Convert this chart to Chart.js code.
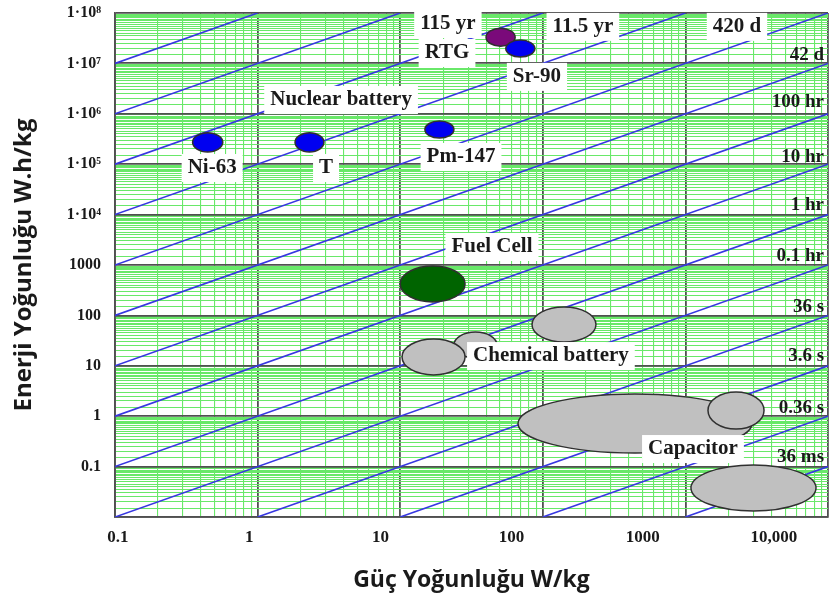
<!DOCTYPE html>
<html>
<head>
<meta charset="utf-8">
<script src="https://cdn.jsdelivr.net/npm/chart.js@4.4.1/dist/chart.umd.min.js"></script>
<style>
  html, body { margin: 0; padding: 0; background: #fff; }
</style>
</head>
<body>
<canvas id="ragone" width="830" height="597"></canvas>
<script>
// Tick labels of the two axes
const xTickValues = [0.1, 1, 10, 100, 1000, 10000];
const xTickLabels = ['0.1', '1', '10', '100', '1000', '10,000'];
const yTickValues = [1e8, 1e7, 1e6, 1e5, 1e4, 1000, 100, 10, 1, 0.1];
const yTickLabels = ['1·10⁸', '1·10⁷', '1·10⁶', '1·10⁵', '1·10⁴', '1000', '100', '10', '1', '0.1'];

// Constant discharge time lines (W/kg, Wh/kg), start and end point
const lineStart = [[1000, 0.01], [100, 0.01], [10, 0.01], [1, 0.01], [0.1, 0.01], [0.1, 0.1], [0.1, 1],
  [0.1, 10], [0.1, 100], [0.1, 1000], [0.1, 1e4], [0.1, 1e5], [0.1, 1e6], [0.1, 1e7]];
const lineEnd = [[1e4, 0.1], [1e4, 1], [1e4, 10], [1e4, 100], [1e4, 1000], [1e4, 1e4], [1e4, 1e5],
  [1e4, 1e6], [1e4, 1e7], [1e4, 1e8], [1000, 1e8], [100, 1e8], [10, 1e8], [1, 1e8]];

// Technology regions: power range (W/kg) and energy range (Wh/kg)
const regionNames = ['Ni-63', 'T', 'Pm-147', 'RTG', 'Sr-90', 'Fuel Cell',
  'Chemical battery a', 'Chemical battery b', 'Chemical battery c',
  'Capacitor a', 'Capacitor b', 'Capacitor c'];
const powerMin = [0.35, 1.83, 14.9, 40, 55, 10, 23.8, 10.3, 84, 67, 1440, 1094];
const powerMax = [0.57, 2.92, 23.8, 64, 88, 28.5, 47.7, 28.5, 236, 2930, 3560, 8240];
const energyMin = [1.75e5, 1.75e5, 3.3e5, 2.2e7, 1.34e7, 185, 14.3, 6.6, 29.7, 0.186, 0.557, 0.0132];
const energyMax = [4.2e5, 4.2e5, 7.2e5, 5.0e7, 2.9e7, 955, 46.9, 34, 147, 2.76, 3.02, 0.108];
const regionColors = ['#0000f0', '#0000f0', '#0000f0', '#7a0a7a', '#0000f0', '#006400',
  '#c0c0c0', '#c0c0c0', '#c0c0c0', '#c0c0c0', '#c0c0c0', '#c0c0c0'];

// Text notes on the plot, anchored in data units
const noteTexts = ['Nuclear battery', 'Ni-63', 'T', 'Pm-147', 'RTG', '115 yr', 'Sr-90', '11.5 yr', '420 d',
  'Fuel Cell', 'Chemical battery', 'Capacitor'];
const noteX = [3.85, 0.48, 3.02, 26.7, 21.3, 21.6, 91, 191, 2300, 44, 114, 1130];
const noteY = [1.88e6, 8.4e4, 8.4e4, 1.39e5, 1.61e7, 6.05e7, 5.4e6, 5.3e7, 5.3e7, 2275, 15.6, 0.223];

const timeTexts = ['42 d', '100 hr', '10 hr', '1 hr', '0.1 hr', '36 s', '3.6 s', '0.36 s', '36 ms'];
const timeY = [1.47e7, 1.71e6, 1.39e5, 1.55e4, 1510, 147, 15.6, 1.45, 0.155];
const timeX = 9380;

const isDecade = v => Math.abs(Math.log10(v) - Math.round(Math.log10(v))) < 1e-6;
const labelFor = (values, labels) => v => {
  const i = values.findIndex(t => Math.abs(Math.log10(t) - Math.log10(v)) < 1e-6);
  return i < 0 ? '' : labels[i];
};

const green = 'rgb(105,232,105)';
const dark = '#505050';

const notesPlugin = {
  id: 'notes',
  afterDatasetsDraw(chart) {
    const {ctx, scales: {x, y}} = chart;
    ctx.save();
    regionNames.forEach((n, i) => {
      const x1 = x.getPixelForValue(powerMin[i]), x2 = x.getPixelForValue(powerMax[i]);
      const y1 = y.getPixelForValue(energyMax[i]), y2 = y.getPixelForValue(energyMin[i]);
      ctx.beginPath();
      ctx.ellipse((x1 + x2) / 2, (y1 + y2) / 2, (x2 - x1) / 2, (y2 - y1) / 2, 0, 0, Math.PI * 2);
      ctx.fillStyle = regionColors[i];
      ctx.fill();
      ctx.lineWidth = 1.5;
      ctx.strokeStyle = '#303030';
      ctx.stroke();
    });

    ctx.textBaseline = 'middle';
    ctx.font = 'bold 21px "Liberation Serif"';
    ctx.textAlign = 'center';
    noteTexts.forEach((t, i) => {
      const px = x.getPixelForValue(noteX[i]), py = y.getPixelForValue(noteY[i]);
      const w = ctx.measureText(t).width;
      ctx.fillStyle = '#fff';
      ctx.fillRect(px - w / 2 - 6, py - 14, w + 12, 28);
      ctx.fillStyle = '#1a1a1a';
      ctx.fillText(t, px, py);
    });

    ctx.font = 'bold 19px "Liberation Serif"';
    ctx.textAlign = 'right';
    timeTexts.forEach((t, i) => {
      ctx.fillStyle = '#1a1a1a';
      ctx.fillText(t, x.getPixelForValue(timeX), y.getPixelForValue(timeY[i]));
    });
    ctx.restore();
  }
};

const xGridTicks = [];
for (let e = -1; e < 4; e++) for (let m = 1; m < 10; m++) xGridTicks.push(m * Math.pow(10, e));
xGridTicks.push(1e4);
const yGridTicks = [];
for (let e = -2; e < 8; e++) for (let m = 1; m < 10; m += 0.5) yGridTicks.push(m * Math.pow(10, e));
yGridTicks.push(1e8);

new Chart(document.getElementById('ragone').getContext('2d'), {
  type: 'line',
  data: {
    datasets: lineStart.map((s, i) => ({
      data: [{x: s[0], y: s[1]}, {x: lineEnd[i][0], y: lineEnd[i][1]}],
      borderColor: 'rgb(55,55,225)',
      borderWidth: 1.6,
      pointRadius: 0,
      fill: false
    }))
  },
  options: {
    responsive: false,
    animation: false,
    events: [],
    layout: {padding: {left: 0, right: 2, top: 13, bottom: 0}},
    plugins: {legend: {display: false}, tooltip: {enabled: false}},
    scales: {
      x: {
        type: 'logarithmic',
        position: 'bottom',
        weight: 0,
        min: 0.1,
        max: 1e4,
        afterBuildTicks: s => { s.ticks = xGridTicks.map(v => ({value: v})); },
        afterFit: s => { s.height = 0; s.paddingLeft = 0; s.paddingRight = 0; },
        ticks: {display: false},
        grid: {
          drawTicks: false,
          color: c => isDecade(c.tick.value) ? dark : green,
          lineWidth: c => isDecade(c.tick.value) ? 1.8 : 1.1
        },
        border: {display: true, color: dark, width: 1.8}
      },
      xl: {
        type: 'logarithmic',
        position: 'bottom',
        weight: 1,
        min: 0.0949,
        max: 25800,
        afterBuildTicks: s => { s.ticks = xTickValues.map(v => ({value: v})); },
        afterFit: s => { s.height = 80; s.paddingLeft = 0; s.paddingRight = 0; },
        grid: {display: false, drawTicks: false},
        border: {display: false},
        ticks: {
          autoSkip: false,
          maxRotation: 0,
          padding: 10,
          color: '#1a1a1a',
          font: {family: 'Liberation Serif', size: 17, weight: 'bold'},
          callback: labelFor(xTickValues, xTickLabels)
        },
        title: {
          display: true,
          text: 'Güç Yoğunluğu W/kg',
          color: '#1a1a1a',
          font: {family: 'Open Sans', size: 23, weight: 'bold'},
          padding: {top: 0, bottom: 3}
        }
      },
      y: {
        type: 'logarithmic',
        min: 0.01,
        max: 1e8,
        afterBuildTicks: s => { s.ticks = yGridTicks.map(v => ({value: v})); },
        afterFit: s => { s.width = 115; s.paddingTop = 0; s.paddingBottom = 0; },
        ticks: {
          autoSkip: false,
          padding: 14,
          color: '#1a1a1a',
          font: {family: 'Liberation Serif', size: 16, weight: 'bold'},
          callback: labelFor(yTickValues, yTickLabels)
        },
        grid: {
          drawTicks: false,
          color: c => isDecade(c.tick.value) ? dark : green,
          lineWidth: c => isDecade(c.tick.value) ? 1.8 : 1.1
        },
        border: {display: true, color: dark, width: 1.8},
        title: {
          display: true,
          text: 'Enerji Yoğunluğu W.h/kg',
          color: '#1a1a1a',
          font: {family: 'Open Sans', size: 24, weight: 'bold'},
          padding: {top: 10, bottom: 0}
        }
      }
    }
  },
  plugins: [notesPlugin]
});
</script>
</body>
</html>
